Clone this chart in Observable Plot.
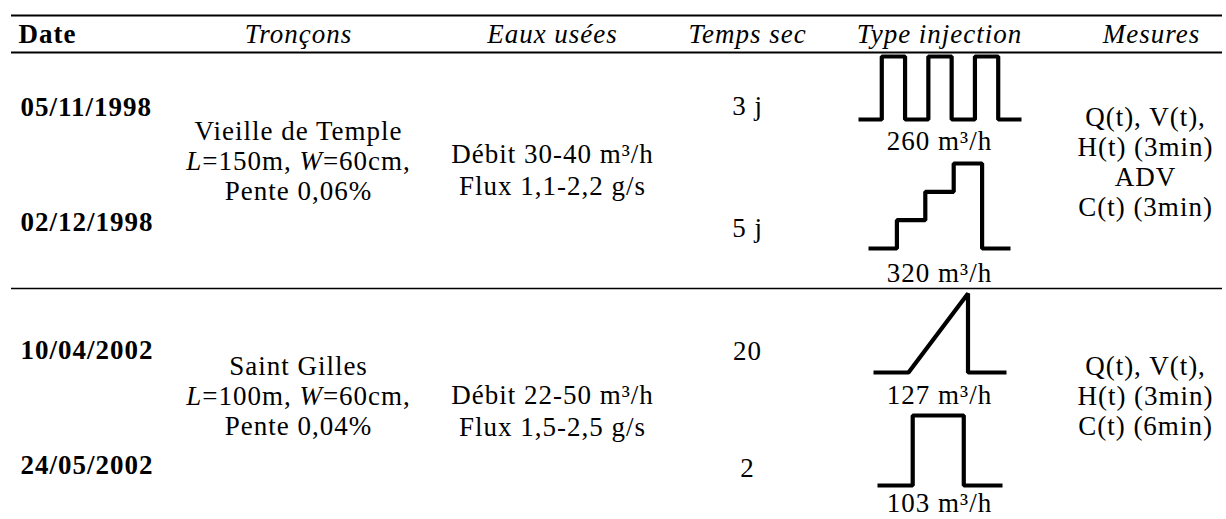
<!DOCTYPE html>
<html><head><meta charset="utf-8">
<script src="https://cdn.jsdelivr.net/npm/d3@7"></script>
<script src="https://cdn.jsdelivr.net/npm/@observablehq/plot@0.6"></script>
<style>
html,body{margin:0;padding:0;background:#fff;}
</style>
</head><body><div id="chart"></div>
<script>
// ---------- DATA ----------
const headers = ["Date", "Tronçons", "Eaux usées", "Temps sec", "Type injection", "Mesures"];
const dates = ["05/11/1998", "02/12/1998", "10/04/2002", "24/05/2002"];
const troncons = [
  ["Vieille de Temple", "L=150m, W=60cm,", "Pente 0,06%"],
  ["Saint Gilles", "L=100m, W=60cm,", "Pente 0,04%"]
];
const eauxUsees = [
  ["Débit 30-40 m³/h", "Flux 1,1-2,2 g/s"],
  ["Débit 22-50 m³/h", "Flux 1,5-2,5 g/s"]
];
const tempsSec = ["3 j", "5 j", "20", "2"];
const injectionDebit = ["260 m³/h", "320 m³/h", "127 m³/h", "103 m³/h"];
const mesures = [
  ["Q(t), V(t),", "H(t) (3min)", "ADV", "C(t) (3min)"],
  ["Q(t), V(t),", "H(t) (3min)", "C(t) (6min)"]
];
// injection hydrograph shapes (time step, relative flow)
const injTime = [
  [0, 1, 2, 3, 4, 5, 6, 7],
  [0, 1, 2, 3, 4, 5],
  [0, 1, 2.7, 2.7, 3.8],
  [0, 1, 2.45, 3.55]
];
const injFlow = [
  [0, 1, 0, 1, 0, 1, 0, 0],
  [0, 1, 2, 3, 0, 0],
  [0, 0, 1, 0, 0],
  [0, 1, 0, 0]
];
const injCurve = ["step-after", "step-after", "linear", "step-after"];

// ---------- LAYOUT ----------
const W = 1226, H = 519;
const FONT = "'Liberation Serif', 'Times New Roman', serif";
const FS = 27, FS_H = 27, FS_B = 27;
const colX = {date: 20, tr: 298, eaux: 552, temps: 747, inj: 939, mes: 1145};
const rules = [{y: 15, w: 2}, {y: 52, w: 2}, {y: 288, w: 1.6}];
const headerY = 34;
const dateY = [107, 222, 350, 465];
const tempsY = [106, 228, 351, 468];
const trMid = [160, 395], trLH = 30;
const eauxMid = [168, 409], eauxLH = 32;
const mesMid = [161, 395], mesLH = 30;
const injBox = [
  {x0: 858, x1: 1021, yb: 119, yt: 56},
  {x0: 868, x1: 1010, yb: 248, yt: 163},
  {x0: 873, x1: 1006, yb: 372, yt: 293},
  {x0: 877, x1: 1002, yb: 485, yt: 415}
];
const injLabelY = [141, 273, 395, 503];

const headerRows = headers.map((h, i) => ({
  text: h,
  x: [colX.date - 2, colX.tr, colX.eaux, colX.temps, colX.inj, colX.mes + 6][i],
  y: headerY, bold: i === 0
}));
const dateRows = dates.map((d, i) => ({text: d, x: colX.date, y: dateY[i]}));
const blocks = [];
troncons.forEach((blk, s) => blocks.push({text: blk.join("\n"), x: colX.tr, y: trMid[s], lh: trLH}));
eauxUsees.forEach((blk, s) => blocks.push({text: blk.join("\n"), x: colX.eaux, y: eauxMid[s], lh: eauxLH}));
mesures.forEach((blk, s) => blocks.push({text: blk.join("\n"), x: colX.mes, y: mesMid[s], lh: mesLH}));
const singles = [];
tempsSec.forEach((t, i) => singles.push({text: t, x: colX.temps, y: tempsY[i]}));
injectionDebit.forEach((t, i) => singles.push({text: t, x: colX.inj, y: injLabelY[i]}));

const shapeMarks = injTime.map((ts, k) => {
  const b = injBox[k];
  const tMax = d3.max(ts), qMax = d3.max(injFlow[k]);
  const pts = ts.map((t, i) => ({
    x: b.x0 + (t / tMax) * (b.x1 - b.x0),
    y: b.yb - (injFlow[k][i] / qMax) * (b.yb - b.yt)
  }));
  return Plot.line(pts, {x: "x", y: "y", curve: injCurve[k], stroke: "#000", strokeWidth: 4.2, strokeLinejoin: "miter", strokeLinecap: "butt"});
});

const textBlocks = [...new Set(blocks.map(b => b.lh))].map(lh =>
  Plot.text(blocks.filter(b => b.lh === lh), {x: "x", y: "y", text: "text", textAnchor: "middle", lineAnchor: "middle", lineHeight: lh / FS, fontSize: FS, fontFamily: FONT, fill: "#000"})
);

const chart = Plot.plot({
  width: W, height: H,
  margin: 0,
  x: {type: "identity"},
  y: {type: "identity"},
  axis: null,
  style: {background: "#fff", fontFamily: FONT, letterSpacing: "1px"},
  marks: [
    Plot.ruleY(rules, {y: "y", x1: 11, x2: 1222, strokeWidth: d => d.w, stroke: "#000"}),
    Plot.text(headerRows.filter(d => d.bold), {x: "x", y: "y", text: "text", textAnchor: "start", fontSize: FS_B, fontWeight: "bold", fontFamily: FONT, fill: "#000"}),
    Plot.text(headerRows.filter(d => !d.bold), {x: "x", y: "y", text: "text", textAnchor: "middle", fontSize: FS_H, fontStyle: "italic", fontFamily: FONT, fill: "#000"}),
    Plot.text(dateRows, {x: "x", y: "y", text: "text", textAnchor: "start", fontSize: FS_B, fontWeight: "bold", fontFamily: FONT, fill: "#000"}),
    ...textBlocks,
    Plot.text(singles, {x: "x", y: "y", text: "text", textAnchor: "middle", fontSize: FS, fontFamily: FONT, fill: "#000"}),
    ...shapeMarks
  ]
});
document.getElementById("chart").appendChild(chart);

// italic L and W in the section descriptions
d3.select(chart).selectAll("tspan, text").each(function() {
  if (this.childElementCount) return;
  const el = d3.select(this);
  const t = el.text();
  const m = /^(L)(=\d+m, )(W)(=\d+cm,)$/.exec(t);
  if (m) {
    el.text(null);
    el.append("tspan").attr("font-style", "italic").text(m[1]);
    el.append("tspan").text(m[2]);
    el.append("tspan").attr("font-style", "italic").text(m[3]);
    el.append("tspan").text(m[4]);
  }
});
</script>
</body></html>
